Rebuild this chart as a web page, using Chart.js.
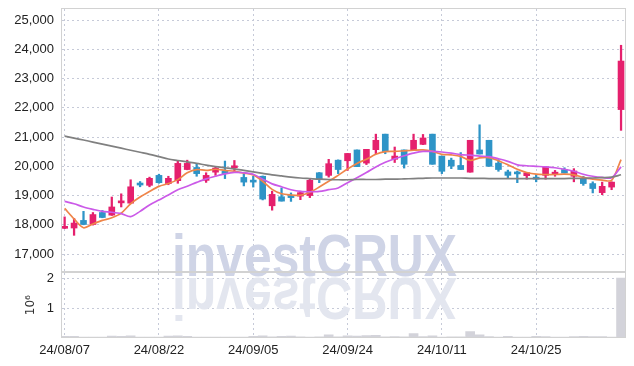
<!DOCTYPE html>
<html>
<head>
<meta charset="utf-8">
<script src="https://cdn.jsdelivr.net/npm/chart.js@4.4.1/dist/chart.umd.min.js"></script>
<style>
  html, body { margin: 0; padding: 0; background: #fff; }
  #wrap { position: relative; width: 634px; height: 366px; }
  #main { position: absolute; left: 0; top: 0; }
  #vol { position: absolute; left: 0; top: 272px; }
</style>
</head>
<body>
<div id="wrap">
  <canvas id="main" width="634" height="272"></canvas>
  <canvas id="vol" width="634" height="94"></canvas>
</div>
<script>
// ---- data ----
const dates = [
  '24/08/07','24/08/08','24/08/09','24/08/12','24/08/13','24/08/14','24/08/16','24/08/19','24/08/20','24/08/21',
  '24/08/22','24/08/23','24/08/26','24/08/27','24/08/28','24/08/29','24/08/30','24/09/02','24/09/03','24/09/04',
  '24/09/05','24/09/06','24/09/09','24/09/10','24/09/11','24/09/12','24/09/13','24/09/19','24/09/20','24/09/23',
  '24/09/24','24/09/25','24/09/26','24/09/27','24/09/30','24/10/02','24/10/04','24/10/07','24/10/08','24/10/10',
  '24/10/11','24/10/14','24/10/15','24/10/16','24/10/17','24/10/18','24/10/21','24/10/22','24/10/23','24/10/24',
  '24/10/25','24/10/28','24/10/29','24/10/30','24/10/31','24/11/01','24/11/04','24/11/05','24/11/06','24/11/07'
];
const tickIdx = [0, 10, 20, 30, 40, 50];

const openP = [
  17880, 17890, 18150, 18010, 18420, 18330, 18750, 18740, 19400, 19350,
  19690, 19410, 19510, 19890, 19960, 19520, 19800, 19840, 19950, 19620,
  19490, 19660, 18650, 18960, 18990, 18980, 19000, 19780, 19690, 20210,
  20190, 20560, 20110, 20570, 21100, 20240, 20560, 20570, 20750, 21100,
  20350, 20210, 20030, 19800, 20560, 20890, 20110, 19810, 19760, 19680,
  19630, 19690, 19730, 19890, 19660, 19580, 19410, 19100, 19290, 21940
];
const highP = [
  18270, 18220, 18460, 18420, 18490, 18950, 19060, 19540, 19480, 19630,
  19730, 19660, 20200, 20210, 20090, 19780, 20000, 20180, 20200, 19730,
  19660, 19670, 19150, 19260, 19090, 19150, 19590, 19790, 20240, 20220,
  20440, 20560, 20580, 21100, 21100, 20660, 20560, 21100, 21090, 21100,
  20350, 20280, 20470, 20890, 21420, 20890, 20230, 19870, 19840, 19780,
  19720, 20000, 19860, 19950, 19920, 19660, 19470, 19460, 19470, 24140
];
const lowP = [
  17870, 17640, 18000, 17990, 18240, 18320, 18610, 18730, 19300, 19300,
  19420, 19370, 19420, 19880, 19660, 19450, 19690, 19580, 19810, 19330,
  19290, 18850, 18500, 18810, 18800, 18860, 18930, 19440, 19630, 19750,
  19860, 19990, 20060, 20430, 20430, 20130, 19940, 20540, 20740, 20070,
  19750, 19920, 19890, 19800, 20420, 20000, 19830, 19580, 19440, 19560,
  19470, 19560, 19660, 19770, 19470, 19350, 19090, 19030, 19200, 21230
];
const closeP = [
  17930, 18060, 18010, 18350, 18250, 18610, 18780, 19300, 19360, 19590,
  19440, 19590, 20100, 20100, 19750, 19690, 19940, 19750, 20010, 19460,
  19460, 18880, 19040, 18810, 18930, 19100, 19520, 19550, 20090, 19890,
  20440, 19990, 20580, 20890, 20500, 20350, 20070, 20890, 20970, 20070,
  19830, 20010, 19890, 20890, 20420, 20000, 19890, 19690, 19740, 19780,
  19560, 19980, 19800, 19770, 19840, 19410, 19240, 19315, 19460, 23600
];
const ma5 = [
  18560, 18200, 17900, 18030, 18150, 18240, 18400, 18720, 18950, 19140,
  19315, 19410, 19545, 19780, 19890, 19860, 19900, 19860, 19830, 19770,
  19700, 19490, 19210, 19060, 19020, 19010, 19110, 19290, 19490, 19690,
  19910, 20100, 20240, 20410, 20500, 20510, 20530, 20550, 20560, 20510,
  20410, 20390, 20340, 20200, 20290, 20300, 20190, 20050, 19900, 19790,
  19730, 19720, 19720, 19730, 19710, 19620, 19560, 19530, 19520, 20230
];
const ma20 = [
  18800, 18720, 18610, 18530, 18460, 18430, 18380, 18280, 18460, 18680,
  18850, 19020, 19200, 19320, 19450, 19570, 19660, 19740, 19790, 19780,
  19730, 19560, 19400, 19300, 19200, 19140, 19130, 19140, 19200, 19260,
  19440, 19610, 19790, 19980, 20140, 20260, 20360, 20450, 20510, 20510,
  20490, 20450, 20400, 20380, 20350, 20330, 20260, 20170, 20050, 20020,
  20000, 19980, 19950, 19900, 19830, 19730, 19660, 19620, 19610, 19980
];
const ma60 = [
  21030, 20965, 20900, 20830, 20760, 20690, 20620, 20550, 20480, 20410,
  20330, 20250, 20200, 20150, 20100, 20040, 19990, 19950, 19910, 19860,
  19810, 19760, 19710, 19670, 19630, 19600, 19580, 19560, 19550, 19540,
  19540, 19550, 19550, 19550, 19560, 19560, 19570, 19580, 19590, 19600,
  19600, 19600, 19600, 19590, 19590, 19580, 19580, 19580, 19580, 19580,
  19580, 19580, 19580, 19580, 19590, 19590, 19600, 19610, 19630, 19710
];
const volume = [
  40000, 35000, 15000, 12000, 15000, 45000, 40000, 50000, 15000, 12000,
  15000, 45000, 55000, 40000, 15000, 12000, 10000, 15000, 12000, 15000,
  40000, 50000, 20000, 40000, 45000, 20000, 15000, 20000, 90000, 20000,
  50000, 45000, 60000, 70000, 20000, 25000, 20000, 130000, 30000, 50000,
  15000, 20000, 20000, 200000, 90000, 30000, 15000, 40000, 15000, 12000,
  35000, 30000, 15000, 10000, 30000, 35000, 30000, 30000, 15000, 2030000
];
const yTicks = [17000, 18000, 19000, 20000, 21000, 22000, 23000, 24000, 25000];
const volTicks = [1000000, 2000000];

// ---- style ----
const UP = '#e5206d';
const DOWN = '#2e94c7';
const gridColor = '#c6cad8';
const tickFont = { family: 'Liberation Sans', size: 13 };
const xMin = -0.28, xMax = 59.42;

const candleColors = openP.map((o, i) => closeP[i] >= o ? UP : DOWN);

// same y axis box in both charts, and no extra room for the end labels
function fixWidth(scale) {
  scale.width = 62;
  scale.paddingTop = 0;
  scale.paddingBottom = 0;
}

function drawMark(ctx, offY) {
  ctx.save();
  ctx.font = 'bold 60px "Liberation Sans"';
  ctx.textAlign = 'left';
  ctx.textBaseline = 'alphabetic';
  ctx.save();
  ctx.translate(172, 276 - offY);
  ctx.scale(0.83, 1);
  ctx.fillStyle = '#cfd4e6';
  ctx.fillText('investCRUX', 0, 0);
  ctx.restore();
  ctx.save();
  ctx.translate(172, 278 - offY);
  ctx.scale(0.83, -1);
  ctx.fillStyle = '#e3e6ef';
  ctx.fillText('investCRUX', 0, 0);
  ctx.restore();
  ctx.restore();
}

function framePlugin(offY) {
  return {
    id: 'frame',
    beforeDatasetsDraw(chart) {
      drawMark(chart.ctx, offY);
    },
    afterDraw(chart) {
      const { ctx, chartArea: a } = chart;
      ctx.save();
      ctx.strokeStyle = '#d2d2d2';
      ctx.lineWidth = 1;
      ctx.strokeRect(Math.round(a.left) - 0.5, Math.round(a.top) - 0.5,
        Math.round(a.right - a.left) + 1, Math.round(a.bottom - a.top) + 1);
      ctx.restore();
    }
  };
}

function xAxis(showLabels) {
  return {
    type: 'linear',
    min: xMin,
    max: xMax,
    offset: false,
    afterBuildTicks: s => { s.ticks = tickIdx.map(v => ({ value: v })); },
    grid: { color: gridColor, drawTicks: false, offset: false },
    border: { display: false, dash: [2, 3] },
    ticks: {
      display: showLabels,
      padding: 5,
      maxRotation: 0,
      autoSkip: false,
      color: '#222',
      font: tickFont,
      callback: v => dates[v]
    }
  };
}

const xy = arr => arr.map((v, i) => ({ x: i, y: v }));

// ---- main price chart ----
new Chart(document.getElementById('main'), {
  type: 'bar',
  data: {
    datasets: [
      { type: 'line', data: xy(ma60), borderColor: '#808080', borderWidth: 1.7, pointRadius: 0, tension: 0.3, order: 0 },
      { type: 'line', data: xy(ma20), borderColor: '#cb5ae8', borderWidth: 1.7, pointRadius: 0, tension: 0.3, order: 0 },
      { type: 'line', data: xy(ma5), borderColor: '#ef8549', borderWidth: 1.7, pointRadius: 0, tension: 0.3, order: 0 },
      {
        data: lowP.map((l, i) => ({ x: i, y: [l, highP[i]] })),
        backgroundColor: candleColors, barThickness: 1.6, grouped: false, order: 2
      },
      {
        data: openP.map((o, i) => ({ x: i, y: [o, closeP[i]] })),
        backgroundColor: candleColors, barThickness: 6, minBarLength: 2, grouped: false, order: 1
      }
    ]
  },
  options: {
    responsive: false,
    animation: false,
    events: [],
    layout: { autoPadding: false, padding: { left: 0, right: 9, top: 9, bottom: 1 } },
    plugins: { legend: { display: false }, tooltip: { enabled: false } },
    scales: {
      x: xAxis(false),
      y: {
        min: 16420,
        max: 25380,
        afterBuildTicks: s => { s.ticks = yTicks.map(v => ({ value: v })); },
        afterFit: fixWidth,
        grid: { color: gridColor, drawTicks: false },
        border: { display: false, dash: [2, 3] },
        ticks: { padding: 8, color: '#222', font: tickFont, callback: v => v.toLocaleString('en-US') }
      }
    }
  },
  plugins: [framePlugin(0)]
});

// ---- volume chart ----
new Chart(document.getElementById('vol'), {
  type: 'bar',
  data: {
    datasets: [{
      data: xy(volume),
      backgroundColor: '#d3d3da',
      barThickness: 9
    }]
  },
  options: {
    responsive: false,
    animation: false,
    events: [],
    layout: { autoPadding: false, padding: { left: 0, right: 9, top: 1, bottom: 3 } },
    plugins: { legend: { display: false }, tooltip: { enabled: false } },
    scales: {
      x: xAxis(true),
      y: {
        min: 0,
        max: 2200000,
        afterBuildTicks: s => { s.ticks = volTicks.map(v => ({ value: v })); },
        afterFit: fixWidth,
        grid: { color: gridColor, drawTicks: false },
        border: { display: false, dash: [2, 3] },
        title: {
          display: true,
          text: '10⁶',
          color: '#333',
          font: { family: 'DejaVu Sans', size: 12 },
          padding: { top: 24, bottom: 0 }
        },
        ticks: { padding: 8, color: '#222', font: tickFont, callback: v => v / 1000000 }
      }
    }
  },
  plugins: [framePlugin(272)]
});
</script>
</body>
</html>
